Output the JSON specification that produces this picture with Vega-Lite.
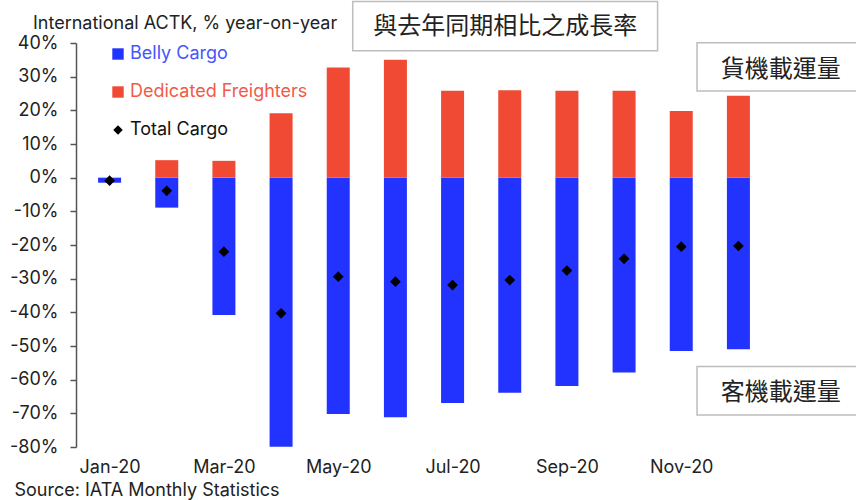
{
  "$schema": "https://vega.github.io/schema/vega-lite/v6.json",
  "width": 696,
  "height": 404,
  "autosize": {"type": "none"},
  "padding": {"left": 76, "top": 43, "right": 84, "bottom": 53},
  "background": "white",
  "config": {
    "view": {"stroke": null},
    "font": "Inter",
    "axis": {"labelFont": "Inter", "labelColor": "#222", "labelFontSize": 18, "grid": false},
    "axisY": {"domainColor": "#555", "domainWidth": 1.5, "tickColor": "#555", "tickWidth": 1.5, "tickSize": 6, "labelPadding": 12},
    "axisX": {"domain": false, "ticks": false, "labelPadding": 11}
  },
  "title": {
    "text": "International ACTK, % year-on-year",
    "anchor": "start",
    "frame": "group",
    "dx": -43,
    "offset": 12,
    "dy": 44,
    "fontSize": 18,
    "fontWeight": "normal",
    "color": "#222",
    "font": "Inter"
  },
  "datasets": {
    "bars": [
      {"m": 1, "month": "Jan-20", "series": "Belly Cargo", "value": -1.5},
      {"m": 2, "month": "Feb-20", "series": "Belly Cargo", "value": -8.9},
      {"m": 3, "month": "Mar-20", "series": "Belly Cargo", "value": -40.8},
      {"m": 4, "month": "Apr-20", "series": "Belly Cargo", "value": -79.9},
      {"m": 5, "month": "May-20", "series": "Belly Cargo", "value": -70.2},
      {"m": 6, "month": "Jun-20", "series": "Belly Cargo", "value": -71.2},
      {"m": 7, "month": "Jul-20", "series": "Belly Cargo", "value": -66.9},
      {"m": 8, "month": "Aug-20", "series": "Belly Cargo", "value": -63.9},
      {"m": 9, "month": "Sep-20", "series": "Belly Cargo", "value": -61.9},
      {"m": 10, "month": "Oct-20", "series": "Belly Cargo", "value": -57.9},
      {"m": 11, "month": "Nov-20", "series": "Belly Cargo", "value": -51.5},
      {"m": 12, "month": "Dec-20", "series": "Belly Cargo", "value": -51.0},
      {"m": 1, "month": "Jan-20", "series": "Dedicated Freighters", "value": 0},
      {"m": 2, "month": "Feb-20", "series": "Dedicated Freighters", "value": 5.2},
      {"m": 3, "month": "Mar-20", "series": "Dedicated Freighters", "value": 5.0},
      {"m": 4, "month": "Apr-20", "series": "Dedicated Freighters", "value": 19.1},
      {"m": 5, "month": "May-20", "series": "Dedicated Freighters", "value": 32.7},
      {"m": 6, "month": "Jun-20", "series": "Dedicated Freighters", "value": 35.0},
      {"m": 7, "month": "Jul-20", "series": "Dedicated Freighters", "value": 25.8},
      {"m": 8, "month": "Aug-20", "series": "Dedicated Freighters", "value": 26.0},
      {"m": 9, "month": "Sep-20", "series": "Dedicated Freighters", "value": 25.8},
      {"m": 10, "month": "Oct-20", "series": "Dedicated Freighters", "value": 25.8},
      {"m": 11, "month": "Nov-20", "series": "Dedicated Freighters", "value": 19.8},
      {"m": 12, "month": "Dec-20", "series": "Dedicated Freighters", "value": 24.3}
    ],
    "total": [
      {"m": 1, "month": "Jan-20", "series": "Total Cargo", "value": -0.9},
      {"m": 2, "month": "Feb-20", "series": "Total Cargo", "value": -3.9},
      {"m": 3, "month": "Mar-20", "series": "Total Cargo", "value": -22.0},
      {"m": 4, "month": "Apr-20", "series": "Total Cargo", "value": -40.3},
      {"m": 5, "month": "May-20", "series": "Total Cargo", "value": -29.4},
      {"m": 6, "month": "Jun-20", "series": "Total Cargo", "value": -30.9},
      {"m": 7, "month": "Jul-20", "series": "Total Cargo", "value": -31.9},
      {"m": 8, "month": "Aug-20", "series": "Total Cargo", "value": -30.4},
      {"m": 9, "month": "Sep-20", "series": "Total Cargo", "value": -27.6},
      {"m": 10, "month": "Oct-20", "series": "Total Cargo", "value": -24.1},
      {"m": 11, "month": "Nov-20", "series": "Total Cargo", "value": -20.5},
      {"m": 12, "month": "Dec-20", "series": "Total Cargo", "value": -20.3}
    ],
    "notes": [
      {"text": "與去年同期相比之成長率", "x1": 5.253, "x2": 10.586, "y1": 52.3, "y2": 37.7, "tx": 7.92, "ty": 44.9},
      {"text": "貨機載運量", "x1": 11.276, "x2": 14.2, "y1": 40.1, "y2": 25.75, "tx": 12.74, "ty": 32.0},
      {"text": "客機載運量", "x1": 11.276, "x2": 14.2, "y1": -56.1, "y2": -70.5, "tx": 12.74, "ty": -63.9}
    ]
  },
  "layer": [
    {
      "data": {"name": "bars"},
      "mark": {"type": "bar", "size": 23},
      "encoding": {
        "x": {
          "field": "m", "type": "quantitative",
          "scale": {"domain": [0.5, 12.5], "nice": false, "zero": false},
          "axis": {
            "values": [1, 3, 5, 7, 9, 11],
            "labelExpr": "['Jan-20','Feb-20','Mar-20','Apr-20','May-20','Jun-20','Jul-20','Aug-20','Sep-20','Oct-20','Nov-20','Dec-20'][datum.value - 1]",
            "labelOverlap": false,
            "title": "Source: IATA Monthly Statistics",
            "titleAnchor": "start",
            "titleAlign": "left",
            "titleX": -62,
            "titleY": 34,
            "titleFontSize": 18,
            "titleFontWeight": "normal",
            "titleColor": "#222",
            "titleFont": "Inter"
          }
        },
        "y": {
          "field": "value", "type": "quantitative", "stack": null,
          "scale": {"domain": [-80, 40], "nice": false},
          "axis": {
            "values": [-80, -70, -60, -50, -40, -30, -20, -10, 0, 10, 20, 30, 40],
            "tickCount": 13,
            "labelExpr": "datum.value + '%'",
            "labelOverlap": false,
            "labelSeparation": 0,
            "labelFlush": false,
            "title": null
          }
        },
        "color": {
          "field": "series", "type": "nominal",
          "scale": {"domain": ["Belly Cargo", "Dedicated Freighters", "Total Cargo"], "range": ["#2233ff", "#f04a35", "#000000"]},
          "legend": {
            "orient": "none",
            "legendX": 33,
            "legendY": 2,
            "title": null,
            "labelFontSize": 18,
            "labelFont": "Inter",
            "labelLimit": 400,
            "rowPadding": 20,
            "symbolSize": 130,
            "symbolStrokeWidth": 0,
            "labelOffset": 3,
            "encode": {
              "labels": {"update": {"fill": {"signal": "datum.value === 'Belly Cargo' ? '#4455ff' : datum.value === 'Dedicated Freighters' ? '#f25a48' : '#111111'"}}},
              "symbols": {"update": {
                "shape": {"signal": "datum.value === 'Total Cargo' ? 'diamond' : 'square'"},
                "size": {"signal": "datum.value === 'Total Cargo' ? 90 : 130"}
              }}
            }
          }
        }
      }
    },
    {
      "data": {"name": "total"},
      "mark": {"type": "point", "shape": "diamond", "filled": true, "size": 115, "opacity": 1},
      "encoding": {
        "x": {"field": "m", "type": "quantitative"},
        "y": {"field": "value", "type": "quantitative"},
        "color": {"field": "series", "type": "nominal"}
      }
    },
    {
      "data": {"name": "notes"},
      "mark": {"type": "rect", "fill": "white", "stroke": "#bdbdbd", "strokeWidth": 1.5},
      "encoding": {
        "x": {"field": "x1", "type": "quantitative"},
        "x2": {"field": "x2"},
        "y": {"field": "y1", "type": "quantitative"},
        "y2": {"field": "y2"}
      }
    },
    {
      "data": {"name": "notes"},
      "mark": {"type": "text", "font": "Noto Sans CJK TC", "fontSize": 24, "color": "#222", "align": "center", "baseline": "middle"},
      "encoding": {
        "x": {"field": "tx", "type": "quantitative"},
        "y": {"field": "ty", "type": "quantitative"},
        "text": {"field": "text"}
      }
    },
    {
      "mark": {"type": "rule", "color": "#555", "strokeWidth": 1.5},
      "encoding": {
        "x": {"datum": 0.4, "type": "quantitative"},
        "x2": {"datum": 12.5},
        "y": {"datum": 0, "type": "quantitative"}
      }
    }
  ]
}
